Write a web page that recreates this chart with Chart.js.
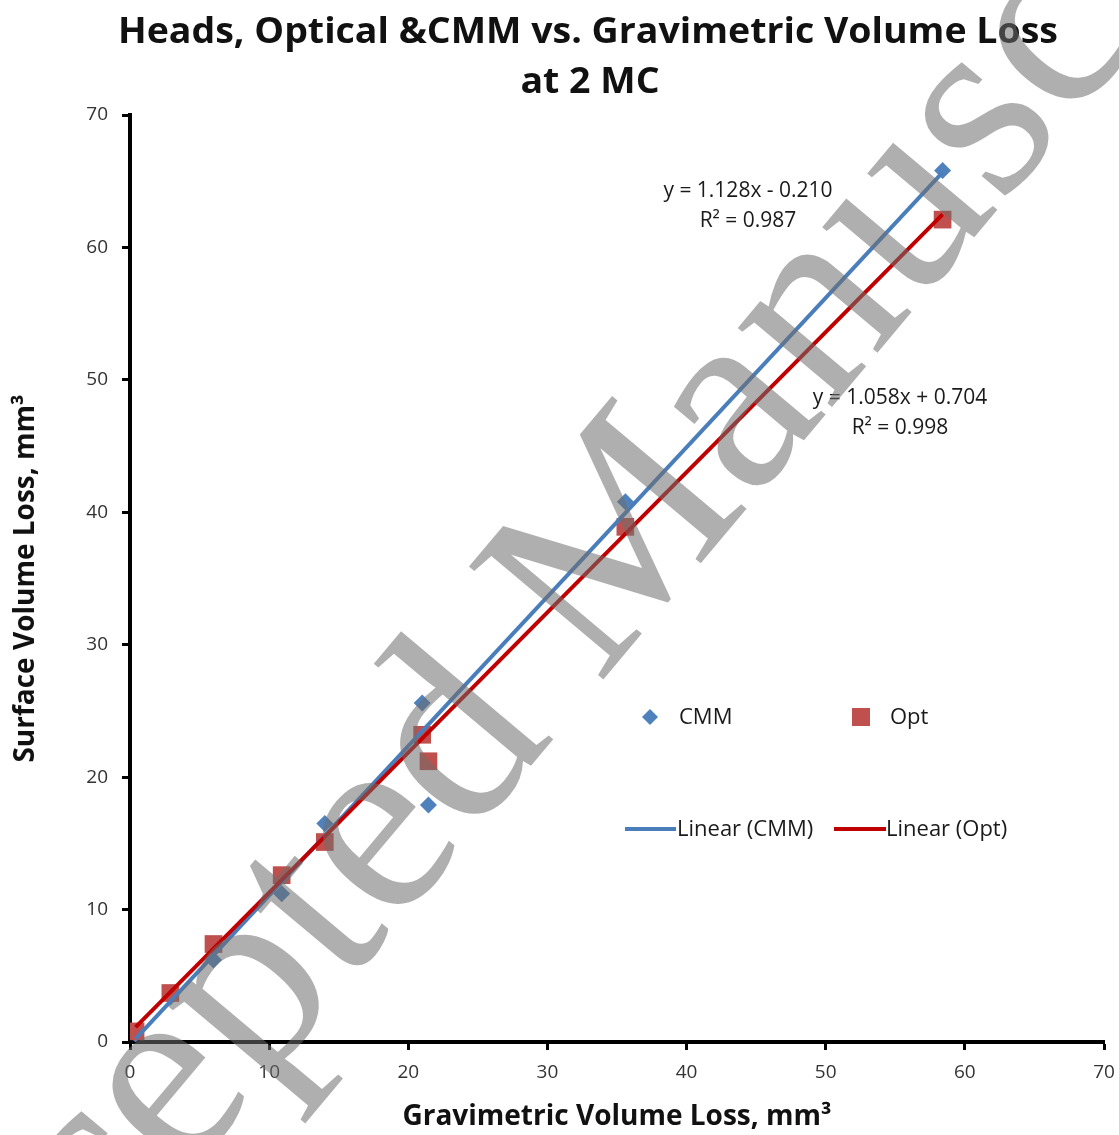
<!DOCTYPE html>
<html>
<head>
<meta charset="utf-8">
<script src="https://cdn.jsdelivr.net/npm/chart.js@4.4.0/dist/chart.umd.min.js"></script>
<style>
  html, body { margin: 0; padding: 0; background: #fff; }
  #wrap { width: 1119px; height: 1135px; }
</style>
</head>
<body>
<div id="wrap"><canvas id="chart" width="1119" height="1135"></canvas></div>
<script>
// values
const gravX = [0.4, 2.9, 6.0, 10.9, 14.0, 21.0, 21.45, 35.6, 58.4];
const cmmY  = [0.6, 3.4, 6.2, 11.2, 16.5, 25.6, 17.9, 40.8, 65.8];
const optY  = [0.8, 3.7, 7.4, 12.6, 15.1, 23.2, 21.2, 38.9, 62.1];

// trend lines, ends as drawn
const trendX    = [0.4, 58.4];
const cmmTrendY = [0.24, 65.67];
const optTrendY = [1.13, 62.49];

const cmmEq = ["y = 1.128x - 0.210", "R\u00b2 = 0.987"];
const optEq = ["y = 1.058x + 0.704", "R\u00b2 = 0.998"];

const xTicks = [0, 10, 20, 30, 40, 50, 60, 70];
const yTicks = [0, 10, 20, 30, 40, 50, 60, 70];

const titleLines = ["Heads, Optical &CMM vs. Gravimetric Volume Loss", "at 2 MC"];

const FONT = "'Open Sans', sans-serif";
const blue = "#4F81BD", red = "#C0504D", blueLine = "#4A7EBB", redLine = "#C00000";

const pts = (xs, ys) => xs.map((x, i) => ({x, y: ys[i]}));

// title (stretched a bit, Calibri is not here), equations, legend, watermark
const extras = {
  id: "extras",
  afterDraw(chart) {
    const ctx = chart.ctx;
    ctx.save();
    ctx.fillStyle = "#111";
    ctx.font = "bold 36px " + FONT;
    ctx.textAlign = "center";
    ctx.textBaseline = "middle";
    const w = ctx.measureText(titleLines[0]).width;
    const sx = 940 / w;
    ctx.save();
    ctx.translate(588, 33);
    ctx.scale(sx, 1);
    ctx.fillText(titleLines[0], 0, 0);
    ctx.restore();
    ctx.save();
    ctx.translate(590, 83);
    ctx.scale(sx, 1);
    ctx.fillText(titleLines[1], 0, 0);
    ctx.restore();

    ctx.fillStyle = "#1a1a1a";
    ctx.font = "21px " + FONT;
    ctx.fillText(cmmEq[0], 748, 191);
    ctx.fillText(cmmEq[1], 748, 221);
    ctx.fillText(optEq[0], 900, 398);
    ctx.fillText(optEq[1], 900, 428);

    // legend
    ctx.font = "22px " + FONT;
    ctx.textAlign = "left";
    ctx.fillStyle = blue;
    ctx.beginPath();
    ctx.moveTo(650, 709); ctx.lineTo(658, 717); ctx.lineTo(650, 725); ctx.lineTo(642, 717);
    ctx.closePath(); ctx.fill();
    ctx.fillStyle = red;
    ctx.fillRect(852, 708, 18, 18);
    ctx.fillStyle = "#1a1a1a";
    ctx.fillText("CMM", 679, 718);
    ctx.fillText("Opt", 890, 718);
    ctx.lineWidth = 4;
    ctx.strokeStyle = blueLine;
    ctx.beginPath(); ctx.moveTo(625, 829); ctx.lineTo(676, 829); ctx.stroke();
    ctx.strokeStyle = redLine;
    ctx.beginPath(); ctx.moveTo(834, 829); ctx.lineTo(886, 829); ctx.stroke();
    ctx.fillText("Linear (CMM)", 677, 830);
    ctx.fillText("Linear (Opt)", 886, 830);
    ctx.restore();

    // watermark
    ctx.save();
    ctx.translate(644, 631);
    ctx.rotate(-50 * Math.PI / 180);
    ctx.font = "268px 'Liberation Serif', serif";
    ctx.textAlign = "center";
    ctx.textBaseline = "alphabetic";
    ctx.fillStyle = "rgba(110,110,110,0.55)";
    ctx.fillText("Accepted Manuscript", 0, 0);
    ctx.restore();
  }
};

new Chart(document.getElementById("chart"), {
  type: "scatter",
  data: {
    datasets: [
      {label: "Linear (Opt)", type: "line", data: pts(trendX, optTrendY), borderColor: redLine, borderWidth: 4, pointRadius: 0, order: 0},
      {label: "Linear (CMM)", type: "line", data: pts(trendX, cmmTrendY), borderColor: blueLine, borderWidth: 4, pointRadius: 0, order: 1},
      {label: "Opt", data: pts(gravX, optY), pointStyle: "rect", pointRadius: 12.5, backgroundColor: red, borderWidth: 0, order: 2},
      {label: "CMM", data: pts(gravX, cmmY), pointStyle: "rectRot", pointRadius: 8.5, backgroundColor: blue, borderWidth: 0, order: 3}
    ]
  },
  options: {
    responsive: false,
    animation: false,
    layout: {padding: {top: 115, right: 0, bottom: 0, left: 0}},
    plugins: {
      legend: {display: false},
      tooltip: {enabled: false},
      title: {display: false}
    },
    scales: {
      x: {
        type: "linear", min: 0, max: 70,
        afterBuildTicks: s => { s.ticks = xTicks.map(v => ({value: v})); },
        afterFit: s => { s.height = 93; s.paddingRight = 15; },
        border: {color: "#000", width: 4},
        grid: {drawOnChartArea: false, drawTicks: true, tickLength: 8, tickWidth: 3, tickColor: "#000"},
        ticks: {color: "#333", padding: 11, font: {family: FONT, size: 19}},
        title: {display: true, text: "Gravimetric Volume Loss, mm\u00b3", color: "#111", padding: {top: 2, bottom: 1}, font: {family: FONT, size: 28, weight: "bold"}}
      },
      y: {
        type: "linear", min: 0, max: 70,
        afterBuildTicks: s => { s.ticks = yTicks.map(v => ({value: v})); },
        afterFit: s => { s.width = 130; },
        border: {color: "#000", width: 4},
        grid: {drawOnChartArea: false, drawTicks: true, tickLength: 8, tickWidth: 3, tickColor: "#000"},
        ticks: {color: "#333", padding: 14, font: {family: FONT, size: 19}},
        title: {display: true, text: "Surface Volume Loss, mm\u00b3", color: "#111", padding: {top: 9, bottom: 4}, font: {family: FONT, size: 28, weight: "bold"}}
      }
    }
  },
  plugins: [extras]
});
</script>
</body>
</html>
